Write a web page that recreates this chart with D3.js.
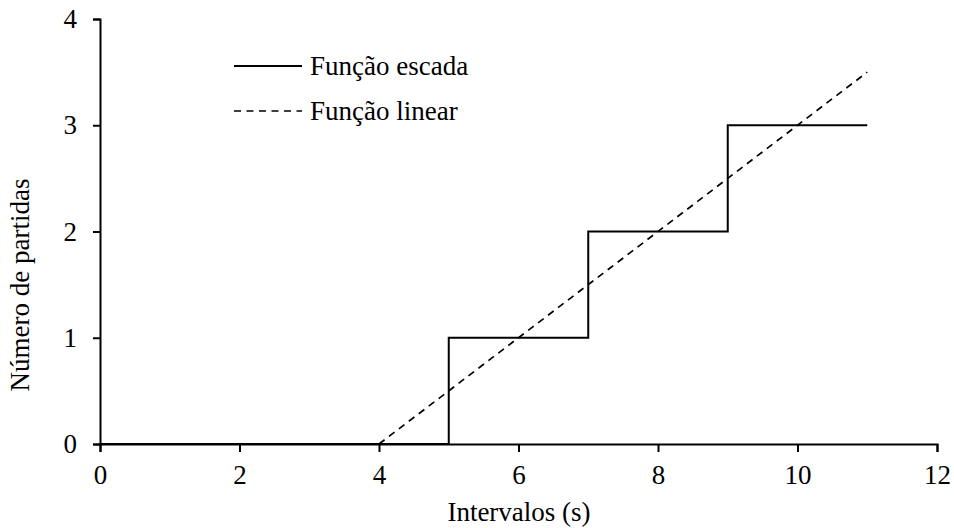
<!DOCTYPE html>
<html>
<head>
<meta charset="utf-8">
<script src="https://cdn.jsdelivr.net/npm/d3@7"></script>
<style>
  body { margin: 0; background: #fff; }
  svg { display: block; }
  svg text { font-family: "Liberation Serif", "Times New Roman", serif; font-size: 27px; fill: #000; }
</style>
</head>
<body>
<svg id="chart" width="954" height="528"></svg>
<script>
// Step function: number of departures per interval
const stepX = [0, 5, 5, 7, 7, 9, 9, 11];
const stepY = [0, 0, 1, 1, 2, 2, 3, 3];
// Linear approximation
const linX = [4, 11];
const linY = [0, 3.5];
const xTicks = [0, 2, 4, 6, 8, 10, 12];
const yTicks = [0, 1, 2, 3, 4];
const seriesNames = ["Função escada", "Função linear"];

const svg = d3.select("#chart");
const m = { left: 100, right: 17, top: 19, bottom: 84 };
const W = 954, H = 528;

const x = d3.scaleLinear().domain([0, 12]).range([m.left, W - m.right]);
const y = d3.scaleLinear().domain([0, 4]).range([H - m.bottom, m.top]);

const xAxis = svg.append("g")
  .attr("transform", `translate(0,${y(0)})`)
  .call(d3.axisBottom(x).tickValues(xTicks).tickFormat(d3.format("d"))
    .tickSizeOuter(8).tickSize(8).tickPadding(13));
const yAxis = svg.append("g")
  .attr("transform", `translate(${x(0)},0)`)
  .call(d3.axisLeft(y).tickValues(yTicks).tickFormat(d3.format("d"))
    .tickSizeOuter(7).tickSize(7).tickPadding(16));

[xAxis, yAxis].forEach(a => {
  a.attr("font-size", null).attr("font-family", null);
  a.selectAll("path, line").attr("stroke", "#000").attr("stroke-width", 2);
});

const line = d3.line().x(d => x(d[0])).y(d => y(d[1]));

svg.append("path")
  .datum(stepX.map((v, i) => [v, stepY[i]]))
  .attr("d", line).attr("fill", "none")
  .attr("stroke", "#000").attr("stroke-width", 2);

svg.append("path")
  .datum(linX.map((v, i) => [v, linY[i]]))
  .attr("d", line).attr("fill", "none")
  .attr("stroke", "#000").attr("stroke-width", 1.7)
  .attr("stroke-dasharray", "7,5.5");

// Legend
const legend = svg.append("g");
seriesNames.forEach((name, i) => {
  const ly = 66 + i * 45;
  legend.append("line")
    .attr("x1", 234).attr("x2", 302).attr("y1", ly).attr("y2", ly)
    .attr("stroke", "#000")
    .attr("stroke-width", i === 0 ? 2 : 1.7)
    .attr("stroke-dasharray", i === 0 ? null : "7,5.5");
  legend.append("text")
    .attr("x", 310).attr("y", ly).attr("dy", "0.32em")
    .text(name);
});

// Axis titles
svg.append("text")
  .attr("x", 519).attr("y", 521)
  .attr("text-anchor", "middle")
  .text("Intervalos (s)");
svg.append("text")
  .attr("transform", "translate(29,285) rotate(-90)")
  .attr("text-anchor", "middle")
  .text("Número de partidas");
</script>
</body>
</html>
